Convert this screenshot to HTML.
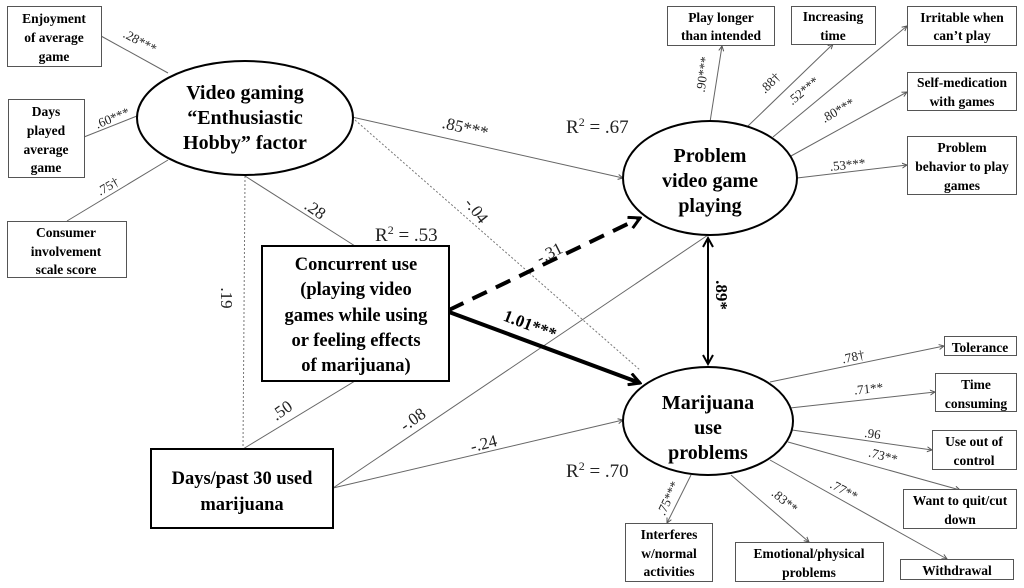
<!DOCTYPE html>
<html><head><meta charset="utf-8"><style>
html,body{margin:0;padding:0;background:#fff;}
svg{display:block;font-family:"Liberation Serif",serif;}
.b{font-weight:bold;}
</style></head><body>
<svg width="1024" height="588" viewBox="0 0 1024 588" xmlns="http://www.w3.org/2000/svg">
<defs>
<marker id="s" markerWidth="6" markerHeight="6" refX="5" refY="3" orient="auto" markerUnits="userSpaceOnUse"><path d="M0,0.5 L5,3 L0,5.5" fill="none" stroke="#555" stroke-width="1"/></marker>
<marker id="big" markerWidth="14" markerHeight="14" refX="12" refY="7" orient="auto" markerUnits="userSpaceOnUse"><path d="M1,1 L12,7 L1,13" fill="none" stroke="#000" stroke-width="3"/></marker>
<marker id="mid" markerWidth="12" markerHeight="12" refX="10" refY="6" orient="auto-start-reverse" markerUnits="userSpaceOnUse"><path d="M1,1 L10,6 L1,11" fill="none" stroke="#000" stroke-width="2"/></marker>
</defs>
<g stroke="#666" stroke-width="1" fill="none">
<line x1="101" y1="36" x2="168" y2="73"/>
<line x1="84" y1="137" x2="137" y2="116"/>
<line x1="67" y1="221" x2="168" y2="160"/>
<line x1="352" y1="117" x2="623" y2="178" marker-end="url(#s)"/>
<line x1="245" y1="176" x2="355" y2="246"/>
<line x1="243" y1="449" x2="355" y2="381"/>
<line x1="333" y1="488" x2="708" y2="235"/>
<line x1="333" y1="488" x2="623" y2="420" marker-end="url(#s)"/>
<line x1="710" y1="122" x2="722" y2="46" marker-end="url(#s)"/>
<line x1="748" y1="126" x2="833" y2="44" marker-end="url(#s)"/>
<line x1="773" y1="137" x2="907" y2="26" marker-end="url(#s)"/>
<line x1="791" y1="156" x2="907" y2="92" marker-end="url(#s)"/>
<line x1="797" y1="178" x2="907" y2="165" marker-end="url(#s)"/>
<line x1="770" y1="382" x2="944" y2="346" marker-end="url(#s)"/>
<line x1="790" y1="408" x2="935" y2="392" marker-end="url(#s)"/>
<line x1="792" y1="430" x2="932" y2="450" marker-end="url(#s)"/>
<line x1="788" y1="442" x2="960" y2="490" marker-end="url(#s)"/>
<line x1="770" y1="460" x2="947" y2="559" marker-end="url(#s)"/>
<line x1="691" y1="475" x2="667" y2="523" marker-end="url(#s)"/>
<line x1="731" y1="475" x2="809" y2="542" marker-end="url(#s)"/>
</g>
<g stroke="#777" stroke-width="1" stroke-dasharray="2,2" fill="none">
<line x1="355" y1="120" x2="640" y2="370"/>
<line x1="245" y1="176" x2="243" y2="449"/>
</g>
<line x1="449" y1="310" x2="640" y2="218" stroke="#000" stroke-width="4" stroke-dasharray="16,10" marker-end="url(#big)"/>
<line x1="449" y1="312" x2="640" y2="383" stroke="#000" stroke-width="4" marker-end="url(#big)"/>
<line x1="708" y1="238" x2="708" y2="364" stroke="#000" stroke-width="2" marker-start="url(#mid)" marker-end="url(#mid)"/>
<g fill="#fff" stroke="#000" stroke-width="2">
<ellipse cx="245" cy="118" rx="108" ry="57"/>
<ellipse cx="710" cy="178" rx="87" ry="57"/>
<ellipse cx="708" cy="421" rx="85" ry="54"/>
<rect x="262" y="246" width="187" height="135"/>
<rect x="151" y="449" width="182" height="79"/>
</g>
<g fill="#fff" stroke="#555" stroke-width="1">
<rect x="7.5" y="6.5" width="94" height="60"/>
<rect x="8.5" y="99.5" width="76" height="78"/>
<rect x="7.5" y="221.5" width="119" height="56"/>
<rect x="667.5" y="6.5" width="107" height="39"/>
<rect x="791.5" y="6.5" width="84" height="38"/>
<rect x="907.5" y="6.5" width="109" height="39"/>
<rect x="907.5" y="72.5" width="109" height="38"/>
<rect x="907.5" y="136.5" width="109" height="58"/>
<rect x="944.5" y="336.5" width="72" height="19"/>
<rect x="935.5" y="373.5" width="81" height="38"/>
<rect x="932.5" y="430.5" width="84" height="39"/>
<rect x="903.5" y="489.5" width="113" height="39"/>
<rect x="900.5" y="559.5" width="113" height="20"/>
<rect x="625.5" y="523.5" width="87" height="58"/>
<rect x="735.5" y="542.5" width="148" height="39"/>
</g>
<g class="b" font-size="13.5" text-anchor="middle" fill="#000">
<text x="54" y="23">Enjoyment</text><text x="54" y="42">of average</text><text x="54" y="61">game</text>
<text x="46" y="116">Days</text><text x="46" y="135">played</text><text x="46" y="154">average</text><text x="46" y="172">game</text>
<text x="66" y="237">Consumer</text><text x="66" y="256">involvement</text><text x="66" y="274">scale score</text>
<text x="721" y="22">Play longer</text><text x="721" y="40">than intended</text>
<text x="833" y="21">Increasing</text><text x="833" y="40">time</text>
<text x="962" y="22">Irritable when</text><text x="962" y="40">can’t play</text>
<text x="962" y="87">Self-medication</text><text x="962" y="106">with games</text>
<text x="962" y="152">Problem</text><text x="962" y="171">behavior to play</text><text x="962" y="190">games</text>
<text x="980" y="352">Tolerance</text>
<text x="976" y="389">Time</text><text x="976" y="408">consuming</text>
<text x="974" y="446">Use out of</text><text x="974" y="465">control</text>
<text x="960" y="505">Want to quit/cut</text><text x="960" y="524">down</text>
<text x="957" y="575">Withdrawal</text>
<text x="669" y="539">Interferes</text><text x="669" y="558">w/normal</text><text x="669" y="576">activities</text>
<text x="809" y="558">Emotional/physical</text><text x="809" y="577">problems</text>
</g>
<g class="b" font-size="20" text-anchor="middle" fill="#000">
<text x="245" y="99">Video gaming</text><text x="245" y="124">“Enthusiastic</text><text x="245" y="149">Hobby” factor</text>
<text x="710" y="162">Problem</text><text x="710" y="187">video game</text><text x="710" y="212">playing</text>
<text x="708" y="409">Marijuana</text><text x="708" y="434">use</text><text x="708" y="459">problems</text>
</g>
<g class="b" font-size="18.5" text-anchor="middle" fill="#000">
<text x="356" y="270">Concurrent use</text><text x="356" y="295">(playing video</text><text x="356" y="321">games while using</text><text x="356" y="346">or feeling effects</text><text x="356" y="371">of marijuana)</text>
<text x="242" y="484">Days/past 30 used</text><text x="242" y="510">marijuana</text>
</g>
<g font-size="19" fill="#222">
<text x="375" y="241">R<tspan font-size="12" dy="-7">2</tspan><tspan dy="7"> = .53</tspan></text>
<text x="566" y="133">R<tspan font-size="12" dy="-7">2</tspan><tspan dy="7"> = .67</tspan></text>
<text x="566" y="477">R<tspan font-size="12" dy="-7">2</tspan><tspan dy="7"> = .70</tspan></text>
</g>
<g font-size="13" fill="#222" text-anchor="middle">
<text transform="translate(138,45) rotate(28)">.28***</text>
<text transform="translate(114,122) rotate(-22)">.60***</text>
<text transform="translate(110,190) rotate(-30)">.75†</text>
<text transform="translate(707,75) rotate(-82)">.90***</text>
<text transform="translate(773,86) rotate(-45)">.88†</text>
<text transform="translate(806,94) rotate(-40)">.52***</text>
<text transform="translate(840,114) rotate(-30)">.80***</text>
<text transform="translate(848,169) rotate(-6)">.53***</text>
<text transform="translate(854,361) rotate(-12)">.78†</text>
<text transform="translate(869,393) rotate(-6)">.71**</text>
<text transform="translate(872,438) rotate(8)">.96</text>
<text transform="translate(882,460) rotate(15)">.73**</text>
<text transform="translate(842,494) rotate(28)">.77**</text>
<text transform="translate(672,500) rotate(-65)">.75***</text>
<text transform="translate(782,504) rotate(40)">.83**</text>
</g>
<g font-size="17" fill="#222" text-anchor="middle">
<text transform="translate(464,133) rotate(13)">.85***</text>
<text transform="translate(312,214) rotate(35)">.28</text>
<text transform="translate(472,214) rotate(52)">-.04</text>
<text transform="translate(221,298) rotate(90)">.19</text>
<text transform="translate(285,415) rotate(-35)">.50</text>
<text transform="translate(416,424) rotate(-35)">-.08</text>
<text transform="translate(485,449) rotate(-14)">-.24</text>
<text transform="translate(552,258) rotate(-27)">-.31</text>
</g>
<g class="b" font-size="17" fill="#000" text-anchor="middle">
<text transform="translate(528,330) rotate(21)">1.01***</text>
<text transform="translate(716,295) rotate(90)">.89*</text>
</g>
</svg>
</body></html>
